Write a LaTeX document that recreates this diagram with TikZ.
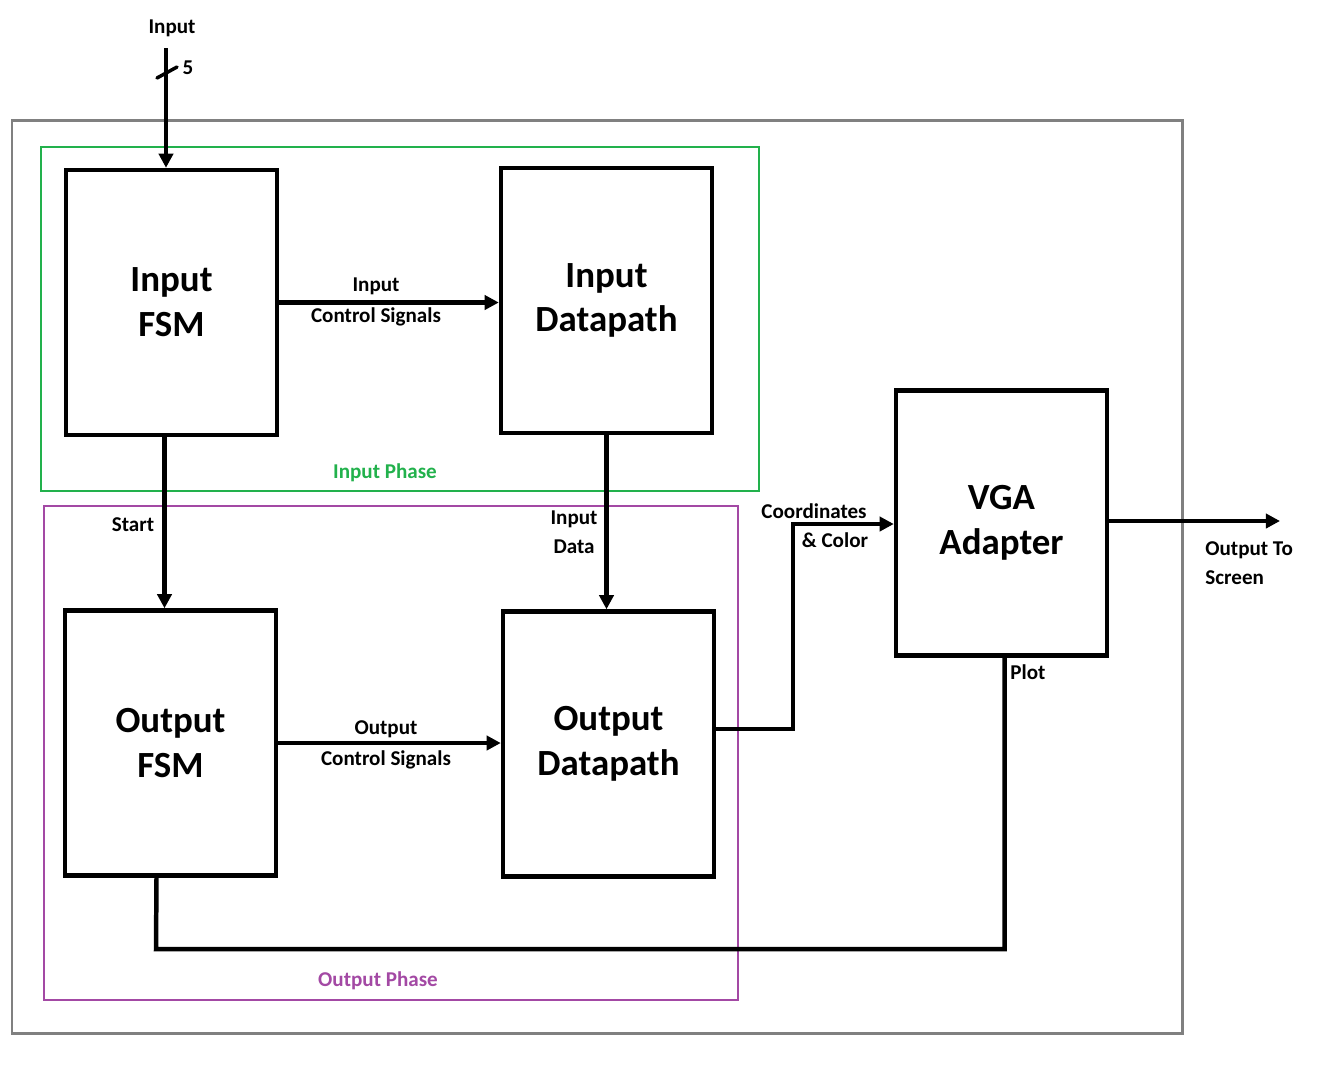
\documentclass[tikz,border=0pt]{standalone}
\usepackage{fontspec}
\setmainfont{Carlito}
\usetikzlibrary{arrows.meta,calc}

\begin{document}
\begin{tikzpicture}[x=0.02cm, y=-0.02cm,
        block/.style={draw=black, line width=4.5*0.567pt, rectangle, minimum width=4.22cm, minimum height=5.3cm, align=center, font=\fontsize{21}{25.5}\selectfont\bfseries},
        wire/.style={line width=4.5*0.567pt, black},
        sig/.style={wire, -{Triangle[length=8pt, width=8pt]}},
        lbl/.style={font=\fontsize{12}{16.5}\selectfont\bfseries, align=center, inner sep=0pt},
        ctrl/.style={lbl, font=\fontsize{12}{18}\selectfont\bfseries},
        phase/.style={line width=2.5*0.567pt}]
        \definecolor{framegray}{RGB}{128,128,128}
        \definecolor{phasegreen}{RGB}{34,177,76}
        \definecolor{phasepurple}{RGB}{163,73,164}

        \useasboundingbox (0,0) rectangle (1318,1066);

        % Outer system frame
        \draw[framegray, line width=3*0.567pt] (12,120) rectangle (1182,1033);

        % Phase regions
        \draw[phase, phasegreen] (41,147) rectangle (759,491);
        \node[lbl, text=phasegreen] (inphase) at (385,473) {Input Phase};
        \draw[phase, phasepurple] (44,506) rectangle (738,1000);
        \node[lbl, text=phasepurple] (outphase) at (378,981) {Output Phase};

        % Top row - input side
        \node[block] (ifsm) at (171.5,302.5) {Input\\FSM};
        \node[block] (idp) at (606.5,300.5) {Input\\Datapath};

        % Bottom row - output side
        \node[block] (ofsm) at (170.5,743) {Output\\FSM};
        \node[block] (odp) at (608.5,744) {Output\\Datapath};

        % Right - VGA
        \node[block] (vga) at (1001.5,523) {VGA\\Adapter};

        % Free ends
        \coordinate (inp) at (166,48);
        \coordinate (scr) at (1280,521);

        % Input bus
        \node[lbl] (inplbl) at (172,28) {Input};
        \draw[sig] (inp) -- (inp |- ifsm.north);
        \draw[line width=3.5*0.567pt, line cap=round] (157,78) -- (177,67);
        \node[lbl] (buswidth) at (188,68) {5};

        % Connections
        \draw[sig] (ifsm.east) -- (ifsm.east -| idp.west);
        \node[ctrl] (icslbl) at (376,302) {Input\\Control Signals};

        \draw[sig] ($(ifsm.south)+(-7,0)$) -- ($(ofsm.north)+(-6,0)$);
        \node[lbl] (startlbl) at (133,525) {Start};

        \draw[sig] (idp.south) -- (idp.south |- odp.north);
        \node[lbl] (idatalbl) at (574,532) {Input\\Data};

        \draw[sig] (ofsm.east) -- (ofsm.east -| odp.west);
        \node[ctrl] (ocslbl) at (386,745) {Output\\Control Signals};

        \draw[sig] ($(odp.east)+(0,-15)$) -| (793,524) -- (vga.west |- 0,524);
        \node[lbl] (coordlbl) at (814,511) {Coordinates};
        \node[lbl] (colorlbl) at (835,540) {\& Color};

        \draw[sig] (vga.east |- scr) -- (scr);
        \node[lbl, align=left, anchor=north west] (scrlbl) at (1205,541) {Output To\\Screen};

        \draw[wire] ($(ofsm.south)+(-14,0)$) -- (156,949) -| ($(vga.south)+(3,0)$);
        \node[lbl] (plotlbl) at (1028,672) {Plot};
\end{tikzpicture}
\end{document}
